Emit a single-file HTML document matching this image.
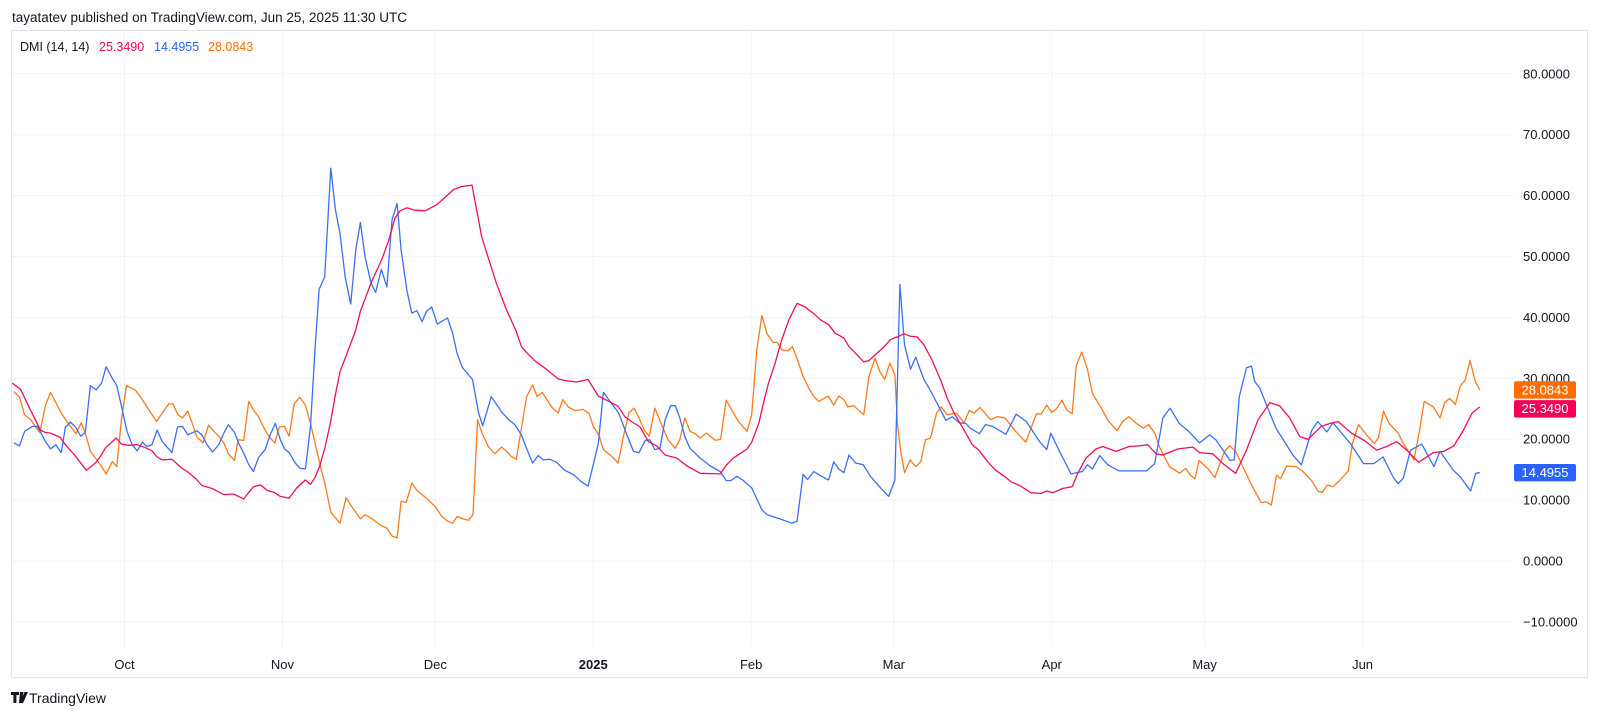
<!DOCTYPE html>
<html><head><meta charset="utf-8"><style>
body{margin:0;background:#fff;width:1600px;height:718px;overflow:hidden;font-family:"Liberation Sans",sans-serif;}
svg text{font-family:"Liberation Sans",sans-serif;}
</style></head><body>
<svg id="c" width="1600" height="718" xmlns="http://www.w3.org/2000/svg">
<text x="12" y="22" font-size="13.5" fill="#131722">tayatatev published on TradingView.com, Jun 25, 2025 11:30 UTC</text>
<rect x="11.5" y="30.5" width="1576" height="647" fill="none" stroke="#e0e3eb"/>
<g id="grid"></g>
<g id="series"></g>
<g id="axis"></g>
<g>
<text x="20" y="51" font-size="12.5" fill="#131722">DMI (14, 14)</text>
<text x="99" y="51" font-size="12.5" fill="#f50057">25.3490</text>
<text x="154" y="51" font-size="12.5" fill="#2962ff">14.4955</text>
<text x="208" y="51" font-size="12.5" fill="#ff6d00">28.0843</text>
</g>
<g>
<path d="M11 692h8v3h-2.6v8h-3v-8H11z M20 692h3.5l-2 11h-2.5z M24.5 692h3.5l-5 11h-3z" fill="#131722"/>
<text x="29" y="703" font-size="14" fill="#131722">TradingView</text>
</g>
</svg>
<script>
const monthDays=[22,53,83,114,145,173,204,234,265];
const monthLabels=["Oct","Nov","Dec","2025","Feb","Mar","Apr","May","Jun"];
const yTicks=[80,70,60,50,40,30,20,10,0,-10];
const adxSeries=[[0,29.2],[1.6,28.2],[2.9,25.9],[4.2,23.7],[5.5,21.5],[6.5,21.1],[7.5,21.0],[9.4,20.3],[10.4,19.1],[12.4,17.2],[14.5,14.9],[16.3,16.1],[17.3,17.2],[18.3,18.6],[19.6,19.6],[20.4,20.2],[21.4,19.2],[22.8,19.0],[24.5,19.1],[26.1,18.6],[27.4,18.1],[28.4,17.1],[29.4,16.6],[31.3,16.7],[33.3,15.2],[34.3,14.7],[35.9,13.6],[37.2,12.4],[39.2,11.9],[41.5,10.9],[43.4,11.0],[45.4,10.2],[47.3,12.2],[48.7,12.5],[50,11.6],[51.3,11.3],[52.6,10.6],[54.3,10.3],[55.8,12.0],[57.5,13.3],[58.5,12.6],[59.4,13.7],[60.4,15.8],[61.4,18.8],[62.4,22.6],[63.4,27.3],[64.3,31.1],[65.6,33.9],[67.3,37.7],[68.3,41.0],[70.5,45.9],[72.5,49.5],[73.8,52.5],[75.1,56.3],[76.1,57.5],[77.4,58.0],[79,57.6],[81,57.5],[83.3,58.5],[84.9,59.7],[86.6,61.0],[88.2,61.5],[90.2,61.7],[91.1,57.7],[92.1,53.3],[93.2,50.3],[95,45.6],[97,41.2],[98.9,37.7],[99.9,35.2],[101.2,34.0],[102.5,32.9],[104.8,31.5],[107.1,29.9],[108.7,29.6],[110.7,29.4],[113,29.8],[115,27.1],[116.6,26.4],[118.9,25.4],[120.2,23.7],[121.5,22.9],[123.2,22.0],[124.8,19.6],[126.5,18.9],[128.1,17.4],[130.4,16.9],[132.4,15.6],[135,14.4],[138.9,14.3],[140.2,15.8],[141.5,16.9],[144.2,18.4],[145.1,19.5],[146.5,22.6],[147.4,25.9],[148.4,29.2],[149.7,32.5],[151,36.3],[152.4,39.6],[154,42.3],[155.6,41.7],[157.3,40.6],[158.6,39.6],[160.2,38.8],[161.5,37.4],[163.2,36.6],[164.2,35.2],[165.5,34.1],[167.1,32.7],[168.1,32.9],[169.4,33.9],[171,35.1],[172.4,36.4],[173.7,36.8],[175,37.3],[176.3,36.9],[177.6,36.8],[178.9,35.5],[180.5,33.0],[182.2,29.7],[183.5,26.7],[184.8,24.3],[186.8,21.5],[188.4,19.1],[189.7,18.2],[191.4,16.3],[193,14.9],[194.7,13.9],[196,13.0],[197.9,12.3],[199.9,11.2],[201.9,11.1],[203,11.5],[204.2,11.2],[206.1,11.9],[208,12.2],[209.1,14.4],[210.7,16.9],[212.7,18.4],[214,18.8],[216.6,18.0],[219.2,18.8],[221.2,18.9],[222.8,19.1],[224.5,17.6],[225.8,17.4],[228.8,18.4],[231.7,18.7],[233,17.8],[235.6,17.6],[237.6,16.0],[240.1,14.4],[242.2,18.2],[244.5,23.2],[246.8,26.0],[248.7,25.5],[250.7,23.5],[252.7,20.4],[254.3,20.0],[256.9,22.1],[258.6,22.6],[260.2,22.9],[262.8,21.0],[265.5,19.7],[267.8,18.2],[269.7,18.8],[271.7,19.6],[273.7,18.2],[276,16.2],[278.9,17.8],[280.9,18.0],[282.9,18.9],[284.8,21.5],[286.5,24.3],[288,25.3]];
const plusDiSeries=[[0.3,19.4],[1.4,18.9],[2.4,21.3],[3.9,22.1],[4.9,22.1],[6.5,19.6],[7.5,18.4],[8.5,19.1],[9.6,17.8],[10.4,22.0],[11.4,22.8],[12.4,22.0],[13.4,20.5],[14.3,21.1],[15.3,28.8],[16.4,28.1],[17.5,29.2],[18.4,31.9],[19.6,30.0],[20.5,28.8],[21.5,25.1],[22.5,21.3],[23.5,19.1],[24.5,18.1],[25.5,19.5],[26.4,18.8],[27.4,19.1],[28.4,21.5],[29.4,19.6],[31.3,17.8],[32.4,22.0],[33.4,22.1],[34.4,20.7],[36.2,21.4],[37.2,20.7],[38.2,19.1],[39.3,17.9],[40.5,19.1],[41.5,21.0],[42.4,22.4],[43.6,21.1],[44.4,19.4],[45.4,17.7],[46.4,15.8],[47.3,14.7],[48.3,17.0],[49.6,18.3],[50.6,20.7],[51.6,22.6],[52.6,19.9],[53.4,18.4],[54.3,17.8],[55.5,16.1],[56.5,15.2],[57.5,15.1],[58.5,22.1],[59.4,34.7],[60.2,44.6],[61.3,46.7],[62.5,64.5],[63.4,57.7],[64.3,53.8],[65.3,46.7],[66.4,42.2],[67.4,51.1],[68.3,55.6],[69.2,50.0],[70.4,45.6],[71.3,44.1],[72.4,47.9],[73.5,45.0],[74.5,56.0],[75.5,58.7],[76.3,51.1],[77.4,44.5],[78.4,40.7],[79.4,41.1],[80.4,39.3],[81.3,41.0],[82.3,41.7],[83.4,38.9],[85.4,39.9],[86.4,37.4],[87.3,34.0],[88.3,31.8],[89.2,30.9],[90.3,29.8],[91.5,24.3],[92.3,22.2],[94,27.0],[96,24.5],[97.3,23.3],[98.6,22.4],[99.9,20.7],[100.9,18.5],[102.1,16.1],[103.2,17.3],[104.2,16.6],[105.5,16.7],[106.8,16.2],[108.4,14.9],[110.1,14.2],[111.7,13.0],[113,12.3],[114,15.8],[115,19.3],[116,27.7],[117.3,26.2],[119,24.3],[120.6,20.7],[121.9,18.0],[123,17.8],[124.2,19.8],[125.1,19.9],[126.1,18.3],[127.1,18.5],[128.1,23.2],[129.2,25.5],[130.1,25.5],[131,23.5],[132,20.4],[133,18.5],[135,16.9],[137,15.6],[138.9,14.7],[140.1,13.2],[141,13.2],[142.2,13.9],[143.5,13.2],[145.1,12.0],[147.1,8.4],[148.1,7.6],[150.7,6.9],[153,6.2],[154,6.5],[155.2,14.2],[156.1,13.4],[157.3,14.7],[158.6,14.0],[160.2,13.3],[161.2,16.3],[162.2,15.1],[163.2,14.5],[164.2,17.4],[165.5,16.1],[167,15.8],[168.4,13.9],[170.4,12.0],[172,10.6],[173.2,13.3],[174.2,45.4],[175.1,35.5],[176.3,31.5],[177.3,33.5],[178.9,29.8],[179.9,28.4],[181.5,25.9],[183.2,23.1],[184.5,23.7],[185.8,22.7],[187.1,22.6],[188,21.8],[189.8,20.9],[191,22.4],[192.4,22.1],[195,20.8],[197,24.1],[199,22.9],[201.6,19.6],[203,18.3],[203.8,21.0],[205.4,18.2],[207.8,14.3],[210,14.7],[211,15.8],[212,15.1],[213.4,17.3],[215,15.8],[217.2,14.8],[220.2,14.8],[222.6,14.8],[224.2,16.0],[225.8,23.5],[227.2,25.1],[229,22.6],[231,21.2],[233,19.4],[235,20.7],[236.2,19.9],[239,16.5],[239.8,16.6],[240.8,27.0],[242.2,31.7],[243.2,32.0],[243.8,29.5],[244.8,28.4],[248,21.8],[251.4,17.3],[253,15.8],[255,21.4],[256.2,22.9],[258,21.2],[259.2,22.7],[262.6,19.3],[265.2,16.0],[267.2,16.0],[269,17.1],[271,13.8],[272,12.7],[273,13.6],[274.4,18.2],[276.6,19.2],[279,15.5],[280.2,18.0],[282.8,14.9],[284.2,13.8],[286.2,11.5],[287.2,14.4],[288,14.5]];
const minusDiSeries=[[0.3,27.8],[1.4,26.9],[2.4,24.0],[3.6,23.2],[4.5,22.1],[5.4,21.1],[6.5,25.6],[7.5,27.7],[8.6,25.9],[9.8,24.0],[11.1,22.4],[12.5,20.9],[13.5,22.7],[14.3,21.0],[15.3,18.0],[16.6,16.6],[17.5,15.5],[18.4,14.3],[19.6,16.3],[20.5,15.5],[21.4,23.2],[22.4,28.8],[24.1,28.1],[25.5,26.5],[26.8,24.8],[28.3,22.9],[29.4,24.3],[30.7,25.8],[31.5,25.8],[32.5,24.0],[33.4,23.5],[34.4,24.6],[35.3,22.6],[36.2,20.4],[37.4,19.4],[38.5,22.3],[39.5,21.3],[40.6,20.4],[41.5,19.4],[42.4,17.6],[43.6,16.5],[44.3,19.9],[45.4,19.8],[46.4,26.2],[47.3,24.8],[48.3,23.7],[49.6,21.5],[50.5,20.3],[51.5,19.4],[52.4,22.0],[53.4,22.1],[54.3,20.5],[55.3,25.8],[56.4,26.9],[57.5,25.6],[58.5,22.6],[59.4,19.4],[60.4,15.8],[61.4,12.5],[62.5,8.0],[64.3,6.2],[65.5,10.4],[66.4,9.2],[68.3,6.9],[69.2,7.6],[70.5,7.0],[72.2,5.9],[73.5,5.4],[74.5,4.1],[75.5,3.8],[76.3,9.8],[77.3,9.6],[78.4,12.8],[79.4,11.6],[81.3,10.3],[83,8.9],[84.3,7.3],[85.3,6.6],[86.4,6.2],[87.3,7.3],[88.5,6.9],[89.5,6.7],[90.4,7.6],[91.3,23.2],[92.3,20.7],[93.4,18.8],[94.7,17.6],[96,18.7],[96.9,18.1],[97.9,17.2],[98.9,16.7],[100.9,26.9],[102.1,28.9],[103,27.0],[104,27.7],[105.8,25.3],[107.1,24.3],[108,26.5],[109.1,25.3],[110.4,24.7],[112,24.9],[113.2,24.2],[114,22.1],[115.1,20.7],[116,18.3],[117.6,17.2],[118.9,16.1],[119.9,20.4],[121,24.3],[122,25.1],[123,23.5],[124,21.5],[125,20.5],[126.1,25.1],[127.4,22.4],[128.7,19.9],[130.1,18.5],[131,19.9],[132,23.5],[133,21.3],[134,20.9],[135,20.2],[136.2,21.0],[138,19.8],[139,20.0],[140.1,26.4],[141.2,24.8],[142.5,22.9],[144.2,21.3],[145.1,24.0],[146.1,34.7],[147.1,40.3],[148.1,37.3],[149.3,35.9],[150.1,35.9],[151,34.7],[152.2,34.5],[153.1,35.2],[154,33.3],[155.2,30.3],[156.3,28.4],[157.3,27.0],[158.3,26.2],[160.1,27.1],[161.2,25.6],[162.2,27.1],[163.2,26.5],[164,25.3],[165.1,25.5],[167.1,24.0],[168.1,30.3],[169.3,33.3],[170.3,31.0],[171.2,29.8],[172.2,32.5],[173.2,30.6],[173.7,22.6],[174.3,18.3],[175.1,14.5],[176.2,16.6],[177.3,15.5],[178.3,16.3],[179.2,19.9],[180.2,20.2],[181.4,24.3],[182.3,25.3],[183.5,24.0],[185.3,24.3],[186.8,22.7],[187.8,24.7],[188.8,24.3],[189.9,25.2],[192,23.2],[193.3,23.7],[194.8,23.5],[196.9,21.3],[198.9,19.5],[201,24.2],[201.9,24.1],[203,25.6],[204,24.4],[204.9,25.0],[206,26.4],[206.9,24.8],[208,24.2],[208.8,32.1],[209.9,34.3],[211,31.5],[212,27.5],[214,24.7],[215,23.1],[216.8,21.4],[217.9,22.9],[219.1,23.7],[220.6,22.6],[222,21.8],[223,22.4],[224.2,21.0],[225.1,18.8],[227.1,15.5],[229.1,14.4],[230.3,15.2],[231.2,14.1],[232.1,13.5],[232.9,16.5],[234.7,15.1],[236,13.7],[237.9,18.0],[238.9,18.9],[240.1,18.0],[241.5,15.5],[243.2,12.5],[245.1,9.6],[246.1,9.7],[247.1,9.2],[248.1,14.1],[248.9,13.5],[250.1,15.6],[252,15.5],[253.3,14.7],[255,13.2],[256.3,11.4],[257.1,11.3],[258.1,12.5],[259.2,12.2],[260.6,13.3],[262.2,14.8],[263,19.3],[264.2,22.4],[265.8,20.7],[267.3,19.3],[268.1,20.2],[269.1,24.6],[270.2,22.6],[272,21.0],[273,19.3],[275.1,16.6],[276.2,21.5],[277.1,26.2],[278.9,25.3],[280.2,23.5],[281.1,26.0],[282.1,26.7],[283.2,25.7],[284.2,28.8],[285.1,29.6],[286.1,32.9],[287.1,29.5],[288,28.1]];
const lastValues=[28.0843,25.3490,14.4955];
const lastLabels=["28.0843","25.3490","14.4955"];

const NS="http://www.w3.org/2000/svg";
const X0=12.4, PXD=5.095, Y0=561, PXV=6.09;
function xs(d){return X0+d*PXD;}
function ys(v){return Y0-v*PXV;}
function mk(tag,attrs,parent){const e=document.createElementNS(NS,tag);for(const k in attrs)e.setAttribute(k,attrs[k]);parent.appendChild(e);return e;}
const grid=document.getElementById('grid'), axis=document.getElementById('axis'), ser=document.getElementById('series');
yTicks.forEach(v=>{
  const l=mk('line',{x1:12,x2:1513,y1:ys(v),y2:ys(v),stroke:'#f0f3fa','stroke-width':1},grid);
  
  
  const t=mk('text',{x:1523,y:ys(v)+4.5,'font-size':13,fill:'#131722'},axis);
  
  
  t.textContent=(v<0?'\u2212':'')+Math.abs(v).toFixed(4);
});
monthDays.forEach((d,i)=>{
  const l=mk('line',{x1:xs(d),x2:xs(d),y1:31,y2:647,stroke:'#f0f3fa','stroke-width':1},grid);
  
  
  const t=mk('text',{x:xs(d),y:669,'font-size':13,fill:'#131722','text-anchor':'middle','font-weight':monthLabels[i]==='2025'?'bold':'normal'},axis);
  
  
  t.textContent=monthLabels[i];
});
function line(data,color,name){
  const p=mk('polyline',{points:data.map(a=>xs(a[0]).toFixed(1)+','+ys(a[1]).toFixed(1)).join(' '),fill:'none',stroke:color,'stroke-width':1.3,'stroke-linejoin':'round'},ser);
  
  
}
line(minusDiSeries,'#ff7a1a','minus-di-line');
line(plusDiSeries,'#3d6ff5','plus-di-line');
line(adxSeries,'#f20f5a','adx-line');
const badgeColors=['#ff6d00','#f50057','#2962ff'];
const badgeNames=['minus-di-badge','adx-badge','plus-di-badge'];
let prevBottom=-100;
lastValues.forEach((v,i)=>{
  let top=ys(v)-8.7;
  if(top<prevBottom+1.5)top=prevBottom+1.5;
  prevBottom=top+17.4;
  const g=mk('g',{},axis);
  
  
  mk('rect',{x:1514,y:top,width:62,height:17.4,rx:2,fill:badgeColors[i]},g);
  const t=mk('text',{x:1545,y:top+13,'font-size':13,fill:'#fff','text-anchor':'middle'},g);
  t.textContent=lastLabels[i];
});
</script>
</body></html>
